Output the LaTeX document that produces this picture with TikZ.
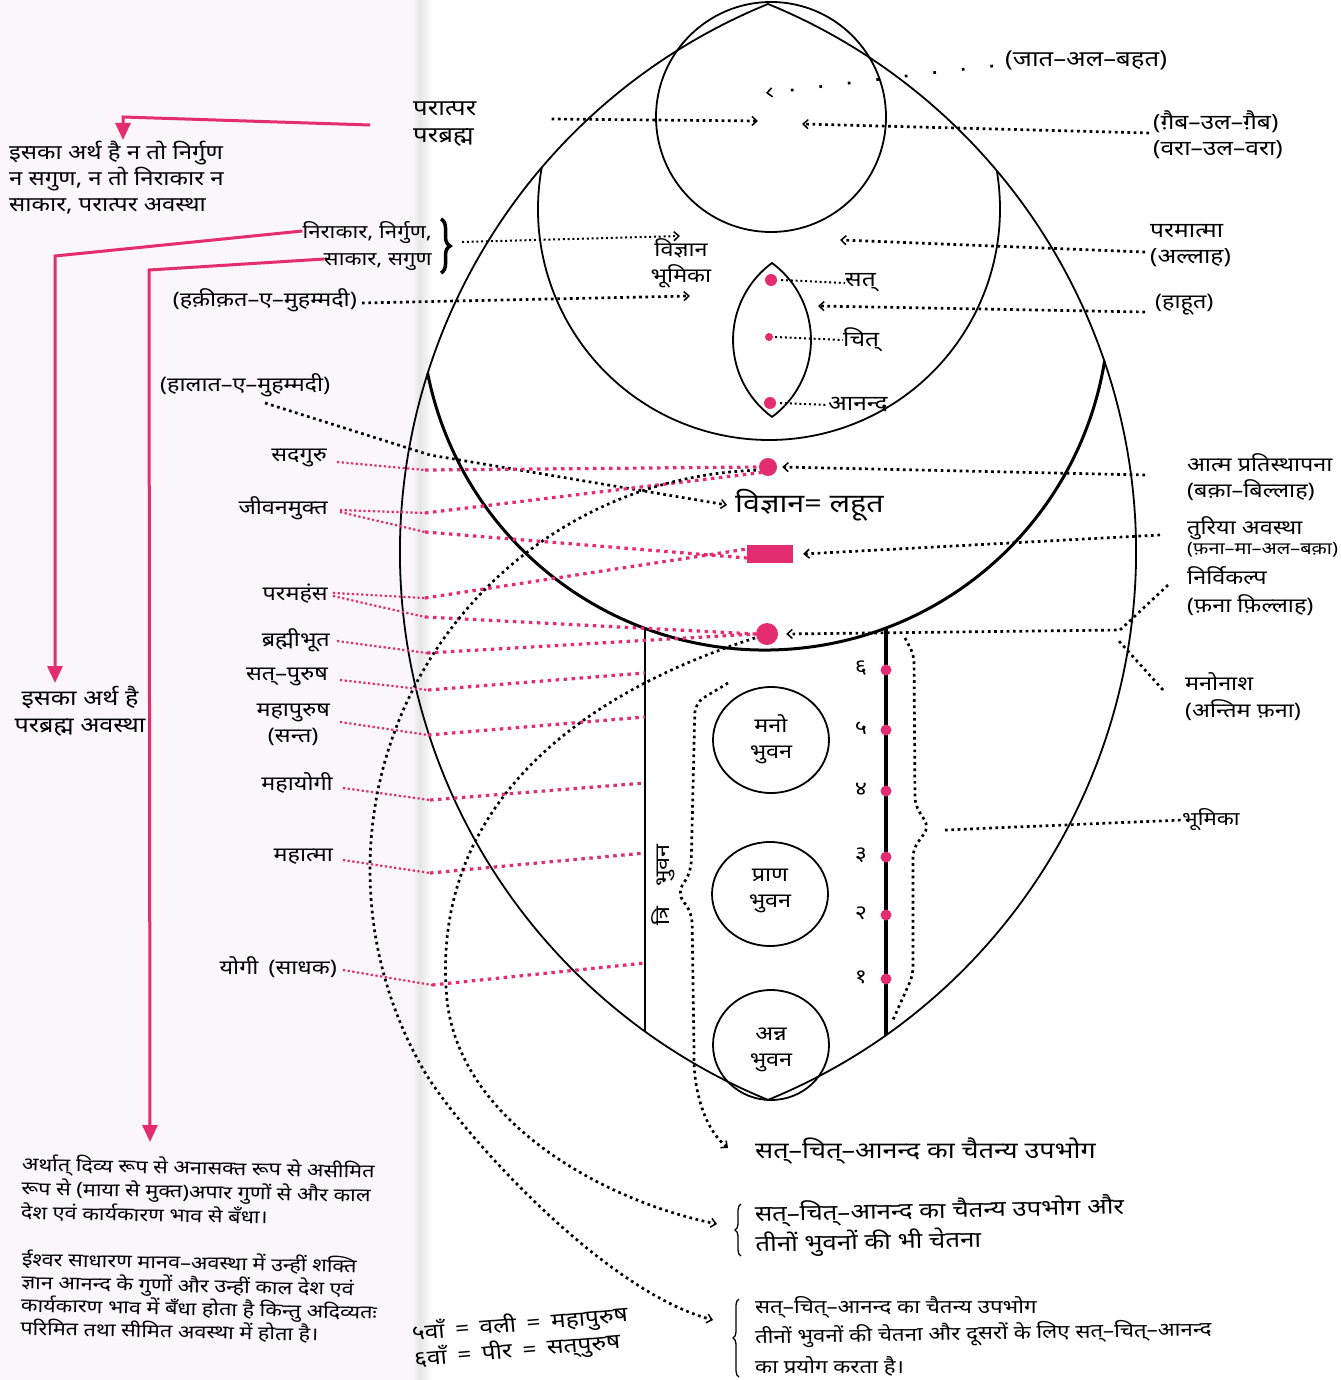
\documentclass[tikz,border=0pt]{standalone}
\usepackage{fontspec}
\setmainfont[Script=Devanagari, FakeStretch=1.17]{Noto Sans}
\usetikzlibrary{arrows.meta,decorations.pathreplacing,shapes.geometric}
\definecolor{pk}{RGB}{228,44,112}
\definecolor{pagecol}{RGB}{250,246,249}
\newcommand{\fsz}[2]{\fontsize{#1pt}{#2pt}\selectfont}
\begin{document}
\begin{tikzpicture}[x=1pt,y=-1pt,
  lab/.style={inner sep=0pt, font=\fsz{20}{26}, align=left},
  labc/.style={inner sep=0pt, font=\fsz{20}{26}, align=center},
  ln/.style={line width=1.8pt},
  dotl/.style={line width=2.7pt, dash pattern=on 2.7pt off 3.6pt},
  dotf/.style={line width=2pt, dash pattern=on 2pt off 2.8pt},
  tipl/.style={-{Straight Barb[length=5pt,width=9pt,line width=1.5pt]}},
  pkf/.style={pk, line width=2.2pt, dash pattern=on 2.2pt off 2.5pt},
  pkt/.style={pk, line width=3.2pt, dash pattern=on 3.5pt off 4.5pt},
  pka/.style={pk, line width=3pt, -{Triangle[length=17pt,width=15pt]}},
  pdot/.style={circle, fill=pk, draw=none, inner sep=0pt},
  btxt/.style={inner sep=0pt, font=\fsz{19}{26}, anchor=west},
]
\useasboundingbox (0,0) rectangle (1340,1380);
\fill[white] (0,0) rectangle (1340,1380);
\fill[pagecol] (0,0) rectangle (412,1380);
\shade[left color=pagecol, right color=black!10] (412,0) rectangle (420,1380);
\shade[left color=black!10, right color=white] (420,0) rectangle (432,1380);

% ---------- main outlines ----------
\draw[ln] (768,4) arc[start angle=247.76,end angle=112.24,radius=592]
              arc[start angle=67.76,end angle=-67.76,radius=592] -- cycle;
\draw[ln] (771,117) circle[radius=115];
\draw[ln] (769,209) ++(190.35:231) arc[start angle=190.35,end angle=-9.5,radius=231];
\draw[line width=3pt] (765,306) ++(168.7:344) arc[start angle=168.7,end angle=9.25,radius=344];
\draw[ln] (772,263) arc[start angle=233.7,end angle=126.3,radius=95.5]
              arc[start angle=53.7,end angle=-53.7,radius=95.5] -- cycle;
\draw[line width=1.8pt] (645,628) -- (645,1031);
\draw[line width=4pt] (886,628) -- (886,1035);

% ---------- bhuvan circles ----------
\node[draw, line width=1.8pt, ellipse, minimum width=116pt, minimum height=106pt, inner sep=0pt] (mano) at (771,740) {};
\node[draw, line width=1.8pt, ellipse, minimum width=116pt, minimum height=104pt, inner sep=0pt] (prana) at (770,894) {};
\node[draw, line width=1.8pt, ellipse, minimum width=116pt, minimum height=110pt, inner sep=0pt] (anna) at (771,1045) {};
\node[labc] (manot) at (771,739) {मनो\\भुवन};
\node[labc] (pranat) at (770,891) {प्राण\\भुवन};
\node[labc] (annat) at (771,1050) {अन्न\\भुवन};
\node[lab, rotate=90] (tri) at (663,885) {त्रि\quad भुवन};

% ---------- pink marks ----------
\node[pdot, minimum size=18pt] (sg) at (768,467) {};
\node[fill=pk, inner sep=0pt, minimum width=46pt, minimum height=18pt] (tur) at (770,554) {};
\node[pdot, minimum size=22pt] (nv) at (767,634) {};
\node[pdot, minimum size=12pt] (dsat) at (771,280) {};
\node[pdot, minimum size=8pt] (dcit) at (769,337) {};
\node[pdot, minimum size=12pt] (dan) at (770,403) {};
\foreach \yy/\nn/\ll in {670/s6/६,730/s5/५,791/s4/४,857/s3/३,915/s2/२,979/s1/१}{
  \node[pdot, minimum size=11pt] (\nn) at (886,\yy) {};
  \node[lab] (n\nn) at (861,\yy-2) {\ll};
}

% ---------- lens labels ----------
\node[lab, anchor=west, font=\fsz{21}{26}] (sat) at (845,283) {सत्};
\node[lab, anchor=west, font=\fsz{21}{26}] (cit) at (843,340) {चित्};
\node[lab, anchor=west, font=\fsz{21}{26}] (anand) at (828,405) {आनन्द};
\draw[dotf] (dsat.east) ++(4,0) -- (sat.west);
\draw[dotf] (dcit.east) ++(2,0) -- (cit.west);
\draw[dotf] (dan.east) ++(4,0) -- (anand.west);

% ---------- center texts ----------
\node[labc] (vbhu) at (681,263) {विज्ञान\\भूमिका};
\node[inner sep=0pt, font=\fsz{26}{30}, anchor=west] (lahut) at (735,505) {विज्ञान= लहूत};
\node[lab, anchor=west, font=\fsz{22}{27}] (parat) at (413,124) {परात्पर\\परब्रह्म};

% ---------- right labels ----------
\node[lab, anchor=west, font=\fsz{22}{26}] (zat) at (1005,60) {(जात–अल–बहत)};
\node[lab, anchor=west, font=\fsz{21}{26}] (gaib) at (1153,135) {(ग़ैब–उल–ग़ैब)\\(वरा–उल–वरा)};
\node[lab, anchor=west, font=\fsz{21}{26}] (param) at (1150,246) {परमात्मा\\(अल्लाह)};
\node[lab, anchor=west] (hahut) at (1155,305) {(हाहूत)};
\node[lab, anchor=west] (atma) at (1187,477) {आत्म प्रतिस्थापना\\(बक़ा–बिल्लाह)};
\node[inner sep=0pt, anchor=west, align=left] (turiya) at (1187,537) {{\fsz{20}{26}तुरिया अवस्था}\\[1pt]{\fsz{17}{20}(फ़ना–मा–अल–बक़ा)}};
\node[lab, anchor=west, font=\fsz{20}{28}] (nirv) at (1187,591) {निर्विकल्प\\(फ़ना फ़िल्लाह)};
\node[lab, anchor=west, font=\fsz{20}{27}] (mano2) at (1185,697) {मनोनाश\\(अन्तिम फ़ना)};
\node[lab, anchor=west, font=\fsz{19}{26}] (bhumi) at (1182,820) {भूमिका};

% ---------- right dotted connectors ----------
\draw[dotl, dash pattern=on 2.7pt off 26pt, tipl] (zat.west) ++(-12,6) .. controls (900,76) and (830,86) .. (766,93);
\draw[dotl, tipl] (parat.east) ++(75,-5) -- (758,121);
\draw[dotl, tipl] (gaib.west) ++(-4,-2) -- (802,124);
\draw[dotl, tipl] (param.west) ++(-5,6) -- (840,240);
\draw[dotl, tipl] (hahut.west) ++(-10,7) -- (818,306);
\draw[dotl, tipl] (atma.west) ++(-42,-2) -- ([xshift=5pt]sg.east);
\draw[dotl, tipl] (turiya.west) ++(-27,-2) -- ([xshift=10pt]tur.east);
\draw[dotl, tipl] (nirv.west) ++(-19,-6) -- (1120,630) -- ([xshift=8pt]nv.east);
\draw[dotl] (mano2.west) ++(-22,-7) -- (1118,640);
\draw[dotl, rounded corners=8pt] (905,638) -- (914,655) -- (915,805) -- (929,827) -- (913,849) -- (913,975) -- (892,1022);
\draw[dotl] (945,830) -- (bhumi.west);
\draw[dotl, tipl, rounded corners=10pt] (728,683) -- (695,703) -- (691,872) -- (677,893) -- (692,913) -- (694,1050) .. controls (694,1080) and (700,1125) .. (728,1148);

% ---------- left labels ----------
\node[lab, anchor=east] (haq) at (357,300) {(हक़ीक़त–ए–मुहम्मदी)};
\node[lab, anchor=west] (hal) at (160,385) {(हालात–ए–मुहम्मदी)};
\node[lab, anchor=east, align=right, font=\fsz{19}{27}] (nira) at (432,246) {निराकार, निर्गुण,\\साकार, सगुण};
\draw[line width=3.5pt, decorate, decoration={brace, amplitude=9pt}] (441,219) -- (441,273);
\node[lab, anchor=east] (sadg) at (327,458) {सदगुरु};
\node[lab, anchor=east] (jivm) at (328,508) {जीवनमुक्त};
\node[lab, anchor=east] (parh) at (328,594) {परमहंस};
\node[lab, anchor=east] (brah) at (330,640) {ब्रह्मीभूत};
\node[lab, anchor=east] (satp) at (328,677) {सत्–पुरुष};
\node[labc, anchor=east] (mahp) at (330,725) {महापुरुष\\(सन्त)};
\node[lab, anchor=east] (mahy) at (333,783) {महायोगी};
\node[lab, anchor=east] (maht) at (333,857) {महात्मा};
\node[lab, anchor=east] (yogi) at (337,967) {योगी\enspace(साधक)};

\draw[dotf, tipl] (nira.east) ++(30,-4) -- (680,236);
\draw[dotl, tipl] (haq.east) ++(5,3) -- (690,296);
\draw[dotl, tipl] (hal.west) ++(105,18) -- (430,455) -- ([xshift=-8pt]lahut.west);

% ---------- pink dotted connectors ----------
\draw[pkf] (sadg.east) ++(10,4) -- (425,470);  \draw[pkt] (425,470) -- (sg.west);
\draw[pkf] (jivm.east) ++(12,2) -- (425,513);  \draw[pkt] (425,513) -- ([yshift=1pt]sg.south west);
\draw[pkf] (jivm.east) ++(12,4) -- (425,532);  \draw[pkt] (425,532) -- ([yshift=-4pt]tur.west);
\draw[pkf] (parh.east) ++(5,-1) -- (425,598);  \draw[pkt] (425,598) -- ([yshift=5pt]tur.west);
\draw[pkf] (parh.east) ++(5,2) -- (425,617);   \draw[pkt] (425,617) -- (nv.west);
\draw[pkf] (brah.east) ++(7,1) -- (427,653);   \draw[pkt] (427,653) -- (nv.west);
\draw[pkf] (satp.east) ++(12,3) -- (428,690);  \draw[pkt] (428,690) -- (645,673);
\draw[pkf] (mahp.east) ++(10,-3) -- (428,735); \draw[pkt] (428,735) -- (645,717);
\draw[pkf] (mahy.east) ++(10,5) -- (430,800);  \draw[pkt] (430,800) -- (645,783);
\draw[pkf] (maht.east) ++(10,3) -- (430,873);  \draw[pkt] (430,873) -- (645,853);
\draw[pkf] (yogi.east) ++(6,3) -- (432,985);   \draw[pkt] (432,985) -- (645,963);

% ---------- big dotted curves ----------
\draw[dotl, tipl] (770,870) ++(-92:400) arc[start angle=-92,end angle=-210,radius=400]
      .. controls (455,1125) and (600,1290) .. (713,1320);
\draw[dotl, tipl] ([xshift=-4pt,yshift=4pt]nv.south west) .. controls (560,700) and (430,820) .. (447,1000)
      .. controls (460,1120) and (600,1200) .. (717,1224);

% ---------- left texts and pink arrows ----------
\node[lab, anchor=north west, font=\fsz{20.5}{26}] (t1) at (9,141) {इसका अर्थ है न तो निर्गुण\\न सगुण, न तो निराकार न\\साकार, परात्पर अवस्था};
\node[labc, font=\fsz{21.5}{27}] (t2) at (80,711) {इसका अर्थ है\\परब्रह्म अवस्था};
\draw[pka] (370,125) -- (123,117) -- (123,140);
\draw[pka] (nira.west) ++(0,-15) -- (55,256) -- (55,683);
\draw[pka] (nira.west) ++(22,13) -- (149,270) -- (150,1142);

\node[inner sep=0pt, font=\fsz{18.5}{24}, align=left, anchor=north west, rotate=-1.2] (p1) at (22,1154)
  {अर्थात् दिव्य रूप से अनासक्त रूप से असीमित\\रूप से (माया से मुक्त)अपार गुणों से और काल\\देश एवं कार्यकारण भाव से बँधा।};
\node[inner sep=0pt, font=\fsz{18.5}{23}, align=left, anchor=north west, rotate=-1.2] (p2) at (22,1249)
  {ईश्वर साधारण मानव–अवस्था में उन्हीं शक्ति\\ज्ञान आनन्द के गुणों और उन्हीं काल देश एवं\\कार्यकारण भाव में बँधा होता है किन्तु अदिव्यतः\\परिमित तथा सीमित अवस्था में होता है।};
\node[lab, anchor=west, rotate=5, font=\fsz{21}{26}] (vali) at (413,1347) {५वाँ\enspace=\enspace वली\enspace=\enspace महापुरुष\\६वाँ\enspace=\enspace पीर\enspace=\enspace सत्‌पुरुष};

% ---------- bottom right texts ----------
\node[lab, anchor=west, font=\fsz{23}{30}] (b1) at (755,1151) {सत्–चित्–आनन्द का चैतन्य उपभोग};
\node[lab, anchor=west, rotate=1.2, font=\fsz{22}{30}] (b2) at (755,1230) {सत्–चित्–आनन्द का चैतन्य उपभोग और\\तीनों भुवनों की भी चेतना};
\draw[line width=1.3pt, decorate, decoration={brace, amplitude=6pt}] (741,1256) -- (741,1204);
\node[btxt] (b3a) at (755,1307) {सत्–चित्–आनन्द का चैतन्य उपभोग};
\node[btxt, rotate=1] (b3b) at (755,1338) {तीनों भुवनों की चेतना और दूसरों के लिए सत्–चित्–आनन्द};
\node[btxt] (b3c) at (755,1366) {का प्रयोग करता है।};
\draw[line width=1.3pt, decorate, decoration={brace, amplitude=6pt}] (739,1377) -- (739,1299);
\end{tikzpicture}
\end{document}
